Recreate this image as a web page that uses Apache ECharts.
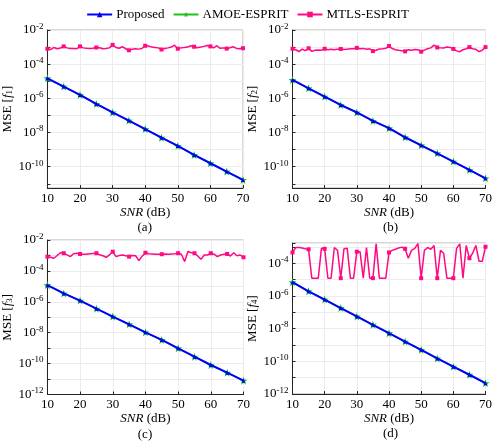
<!DOCTYPE html>
<html>
<head>
<meta charset="utf-8">
<script src="https://cdn.jsdelivr.net/npm/echarts@6/dist/echarts.min.js"></script>
<style>
  html, body { margin: 0; padding: 0; background: #ffffff; }
  #chart { width: 495px; height: 441px; }
</style>
</head>
<body>
<div id="chart"></div>
<script>
// SNR grid (dB): markers every 5 dB, MTLS-ESPRIT sampled every 1 dB
const snrCoarse = [10, 15, 20, 25, 30, 35, 40, 45, 50, 55, 60, 65, 70];
const snrFine = [];
for (let s = 10; s <= 70; s++) snrFine.push(s);

// MSE of f1
const proposedF1 = [1.5e-5, 4.9e-6, 1.6e-6, 4.7e-7, 1.5e-7, 5.0e-8, 1.6e-8, 5.0e-9, 1.65e-9, 4.9e-10, 1.6e-10, 5.2e-11, 1.7e-11];
const amoeF1     = [1.5e-5, 4.9e-6, 1.6e-6, 4.7e-7, 1.5e-7, 5.0e-8, 1.6e-8, 5.0e-9, 1.65e-9, 4.9e-10, 1.6e-10, 5.2e-11, 1.7e-11];
const mtlsF1 = [
  8.0e-4, 7.2e-4, 9.5e-4, 8.0e-4, 8.8e-4, 1.1e-3, 9.0e-4, 8.2e-4, 8.4e-4, 8.0e-4,
  1.1e-3, 9.0e-4, 8.5e-4, 8.2e-4, 8.6e-4, 9.5e-4, 9.2e-4, 8.0e-4, 8.4e-4, 9.0e-4,
  1.35e-3, 9.5e-4, 8.6e-4, 1.05e-3, 8.0e-4, 6.5e-4, 7.5e-4, 8.0e-4, 7.6e-4, 8.3e-4,
  1.2e-3, 1.15e-3, 1.0e-3, 9.6e-4, 9.0e-4, 7.2e-4, 8.2e-4, 9.0e-4, 1.0e-3, 1.3e-3,
  8.0e-4, 9.0e-4, 9.4e-4, 1.0e-3, 1.2e-3, 1.05e-3, 9.2e-4, 1.0e-3, 1.1e-3, 1.25e-3,
  1.1e-3, 9.0e-4, 1.2e-3, 8.5e-4, 9.0e-4, 8.2e-4, 9.2e-4, 1.05e-3, 8.4e-4, 8.0e-4,
  8.6e-4
];

// MSE of f2
const proposedF2 = [1.2e-5, 3.9e-6, 1.26e-6, 4.1e-7, 1.5e-7, 4.8e-8, 1.8e-8, 5.3e-9, 1.8e-9, 6.1e-10, 2.0e-10, 6.5e-11, 2.1e-11];
const amoeF2     = [1.2e-5, 3.9e-6, 1.26e-6, 4.1e-7, 1.5e-7, 4.8e-8, 1.8e-8, 5.3e-9, 1.8e-9, 6.1e-10, 2.0e-10, 6.5e-11, 2.1e-11];
const mtlsF2 = [
  8.0e-4, 7.0e-4, 5.5e-4, 7.5e-4, 6.2e-4, 8.5e-4, 5.6e-4, 6.5e-4, 6.8e-4, 6.6e-4,
  8.0e-4, 7.0e-4, 7.4e-4, 7.0e-4, 7.6e-4, 7.8e-4, 7.2e-4, 7.6e-4, 7.9e-4, 8.0e-4,
  9.0e-4, 8.0e-4, 8.4e-4, 7.4e-4, 8.0e-4, 5.8e-4, 6.6e-4, 7.8e-4, 8.0e-4, 8.5e-4,
  1.15e-3, 8.2e-4, 7.0e-4, 6.5e-4, 6.2e-4, 5.6e-4, 7.0e-4, 6.6e-4, 7.2e-4, 7.0e-4,
  5.4e-4, 6.6e-4, 8.0e-4, 9.0e-4, 1.3e-3, 9.5e-4, 9.0e-4, 8.8e-4, 1.0e-3, 9.6e-4,
  7.8e-4, 6.0e-4, 5.4e-4, 7.0e-4, 8.0e-4, 1.0e-3, 8.0e-4, 7.4e-4, 5.4e-4, 6.5e-4,
  1.0e-3
];

// MSE of f3
const proposedF3 = [1.2e-5, 3.5e-6, 1.2e-6, 3.6e-7, 1.1e-7, 3.5e-8, 1.05e-8, 3.4e-9, 9.8e-10, 2.8e-10, 8.1e-11, 2.6e-11, 7.9e-12];
const amoeF3     = [1.2e-5, 3.5e-6, 1.2e-6, 3.6e-7, 1.1e-7, 3.5e-8, 1.05e-8, 3.4e-9, 9.8e-10, 2.8e-10, 8.1e-11, 2.6e-11, 7.9e-12];
const mtlsF3 = [
  8.4e-4, 7.6e-4, 6.6e-4, 1.0e-3, 1.5e-3, 1.4e-3, 1.1e-3, 8.4e-4, 1.3e-3, 1.4e-3,
  1.25e-3, 1.2e-3, 1.2e-3, 1.3e-3, 1.35e-3, 1.4e-3, 1.1e-3, 9.6e-4, 7.6e-4, 1.1e-3,
  1.75e-3, 8.4e-4, 1.0e-3, 1.07e-3, 9.6e-4, 8.4e-4, 1.0e-3, 9.6e-4, 4.6e-4, 9.0e-4,
  1.5e-3, 1.3e-3, 1.25e-3, 1.2e-3, 1.2e-3, 1.2e-3, 1.25e-3, 1.2e-3, 1.25e-3, 1.3e-3,
  1.4e-3, 1.2e-3, 4.0e-4, 1.8e-3, 1.5e-3, 1.4e-3, 9.2e-4, 5.6e-4, 1.07e-3, 1.07e-3,
  1.4e-3, 1.2e-3, 8.4e-4, 1.07e-3, 1.2e-3, 1.25e-3, 9.2e-4, 1.5e-3, 9.6e-4, 1.07e-3,
  7.6e-4
];

// MSE of f4
const proposedF4 = [6.8e-6, 1.9e-6, 5.9e-7, 1.8e-7, 5.5e-8, 1.7e-8, 5.2e-9, 1.6e-9, 5.0e-10, 1.5e-10, 4.7e-11, 1.5e-11, 4.6e-12];
const amoeF4     = [6.8e-6, 1.9e-6, 5.9e-7, 1.8e-7, 5.5e-8, 1.7e-8, 5.2e-9, 1.6e-9, 5.0e-10, 1.5e-10, 4.7e-11, 1.5e-11, 4.6e-12];
const mtlsF4 = [
  4.5e-4, 9.0e-4, 9.0e-4, 8.5e-4, 7.5e-4, 7.0e-4, 1.2e-5, 1.2e-5, 1.2e-5, 8.0e-4,
  7.5e-4, 1.2e-5, 1.2e-5, 9.0e-4, 6.0e-4, 1.2e-5, 7.5e-4, 8.0e-4, 1.2e-5, 1.2e-5,
  5.0e-4, 5.0e-4, 1.2e-5, 9.0e-4, 1.2e-5, 1.2e-5, 1.5e-3, 1.2e-5, 1.2e-5, 1.2e-5,
  4.5e-4, 6.0e-4, 7.0e-4, 8.5e-4, 9.5e-4, 7.5e-4, 2.0e-4, 6.0e-4, 8.0e-4, 1.55e-3,
  1.2e-5, 6.0e-4, 9.0e-4, 7.0e-4, 1.2e-3, 1.2e-5, 6.0e-4, 4.0e-4, 1.2e-5, 1.2e-5,
  1.2e-5, 8.0e-4, 1.5e-3, 1.2e-5, 1.2e-3, 2.0e-4, 4.0e-4, 1.2e-3, 1.3e-4, 1.3e-4,
  1.0e-3
];

const panels = [
  { label: '(a)', idx: '1', proposed: proposedF1, amoe: amoeF1, mtls: mtlsF1, yMin: 5.7e-12, yMax: 1e-2 },
  { label: '(b)', idx: '2', proposed: proposedF2, amoe: amoeF2, mtls: mtlsF2, yMin: 5.7e-12, yMax: 1e-2 },
  { label: '(c)', idx: '3', proposed: proposedF3, amoe: amoeF3, mtls: mtlsF3, yMin: 1e-12, yMax: 1e-2 },
  { label: '(d)', idx: '4', proposed: proposedF4, amoe: amoeF4, mtls: mtlsF4, yMin: 1e-12, yMax: 1.7e-3 }
];

const FONT = '"Liberation Serif", "Times New Roman", serif';
const INK = '#262626';
const COLORS = { proposed: '#0000ff', amoe: '#20c020', mtls: '#ff0a82' };

const gridBoxes = [
  { left: 46.5, top: 30, width: 196.5, height: 158 },
  { left: 292.5, top: 30, width: 196, height: 158 },
  { left: 46.5, top: 240, width: 197, height: 154.5 },
  { left: 292.5, top: 243, width: 196, height: 151 }
];

const starPath = 'path://M0,-10L2.35,-3.24L9.51,-3.09L3.8,1.24L5.88,8.09L0,4L-5.88,8.09L-3.8,1.24L-9.51,-3.09L-2.35,-3.24Z';

function decadeLabel(v) {
  const e = Math.log10(v);
  const r = Math.round(e);
  if (Math.abs(e - r) > 1e-6 || r % 2 !== 0) return '';
  return '{b|10}{s|' + r + '}';
}

const grids = [], xAxes = [], yAxes = [], series = [], graphics = [];

panels.forEach((p, i) => {
  const g = gridBoxes[i];
  grids.push(Object.assign({ show: true, borderColor: '#b0b0b0', borderWidth: 1, backgroundColor: 'transparent' }, g));

  xAxes.push({
    type: 'value', gridIndex: i, min: 10, max: 70, interval: 10,
    name: '{i|SNR} (dB)', nameLocation: 'middle', nameGap: 18,
    nameTextStyle: { fontFamily: FONT, fontSize: 13, color: '#000',
      rich: { i: { fontFamily: FONT, fontSize: 13, fontStyle: 'italic', color: '#000' } } },
    axisLine: { show: true, lineStyle: { color: INK, width: 1 } },
    axisTick: { show: true, inside: true, length: 3, lineStyle: { color: INK } },
    axisLabel: { fontFamily: FONT, fontSize: 13, color: '#000', margin: 4 },
    splitLine: { show: true, lineStyle: { color: '#ececec', width: 1 } }
  });

  yAxes.push({
    type: 'log', logBase: 10, gridIndex: i, min: p.yMin, max: p.yMax, splitNumber: 10,
    name: 'MSE [{i|f}{sub|' + p.idx + '}]', nameLocation: 'middle', nameGap: 25, nameRotate: 90,
    nameTextStyle: { fontFamily: FONT, fontSize: 13, color: '#000',
      rich: {
        i: { fontFamily: FONT, fontSize: 13, fontStyle: 'italic', color: '#000' },
        sub: { fontFamily: FONT, fontSize: 9, color: '#000', padding: [5, 0, 0, 0] }
      } },
    axisLine: { show: true, lineStyle: { color: INK, width: 1 } },
    axisTick: { show: true, inside: true, length: 3, lineStyle: { color: INK } },
    axisLabel: {
      interval: 0, showMinLabel: true, showMaxLabel: true, hideOverlap: false, margin: 4,
      formatter: decadeLabel,
      rich: {
        b: { fontFamily: FONT, fontSize: 13, color: '#000' },
        s: { fontFamily: FONT, fontSize: 9, color: '#000', padding: [0, 0, 7, 0] }
      }
    },
    splitLine: { show: true, lineStyle: { color: '#ececec', width: 1 } }
  });

  series.push({
    name: 'MTLS-ESPRIT', type: 'line', xAxisIndex: i, yAxisIndex: i, z: 2,
    showAllSymbol: true, symbol: 'rect', symbolSize: 4,
    data: p.mtls.map((v, k) => k % 5 === 0 ? [snrFine[k], v] : { value: [snrFine[k], v], symbol: 'none' }),
    lineStyle: { color: COLORS.mtls, width: 1.5 },
    itemStyle: { color: COLORS.mtls },
    emphasis: { disabled: true }, animation: false
  });
  series.push({
    name: 'AMOE-ESPRIT', type: 'line', xAxisIndex: i, yAxisIndex: i, z: 3,
    symbol: starPath, symbolSize: 8,
    data: p.amoe.map((v, k) => [snrCoarse[k], v]),
    lineStyle: { color: COLORS.amoe, width: 1.5 },
    itemStyle: { color: COLORS.amoe },
    emphasis: { disabled: true }, animation: false
  });
  series.push({
    name: 'Proposed', type: 'line', xAxisIndex: i, yAxisIndex: i, z: 4,
    symbol: 'triangle', symbolSize: 4,
    data: p.proposed.map((v, k) => [snrCoarse[k], v]),
    lineStyle: { color: COLORS.proposed, width: 2 },
    itemStyle: { color: COLORS.proposed },
    emphasis: { disabled: true }, animation: false
  });

  graphics.push({
    type: 'text', x: g.left + g.width / 2, y: g.top + g.height + 40,
    style: { text: p.label, font: '13px ' + FONT, fill: '#000', textAlign: 'center', textVerticalAlign: 'middle' }
  });
});

const chart = echarts.init(document.getElementById('chart'), null, { renderer: 'canvas' });
chart.setOption({
  animation: false,
  backgroundColor: '#ffffff',
  legend: {
    data: ['Proposed', 'AMOE-ESPRIT', 'MTLS-ESPRIT'],
    top: 3, left: 'center', itemWidth: 25, itemHeight: 7, itemGap: 8,
    textStyle: { fontFamily: FONT, fontSize: 13, color: '#000', padding: [0, 0, 0, -1] },
    selectedMode: false
  },
  grid: grids,
  xAxis: xAxes,
  yAxis: yAxes,
  series: series,
  graphic: graphics
});
</script>
</body>
</html>
